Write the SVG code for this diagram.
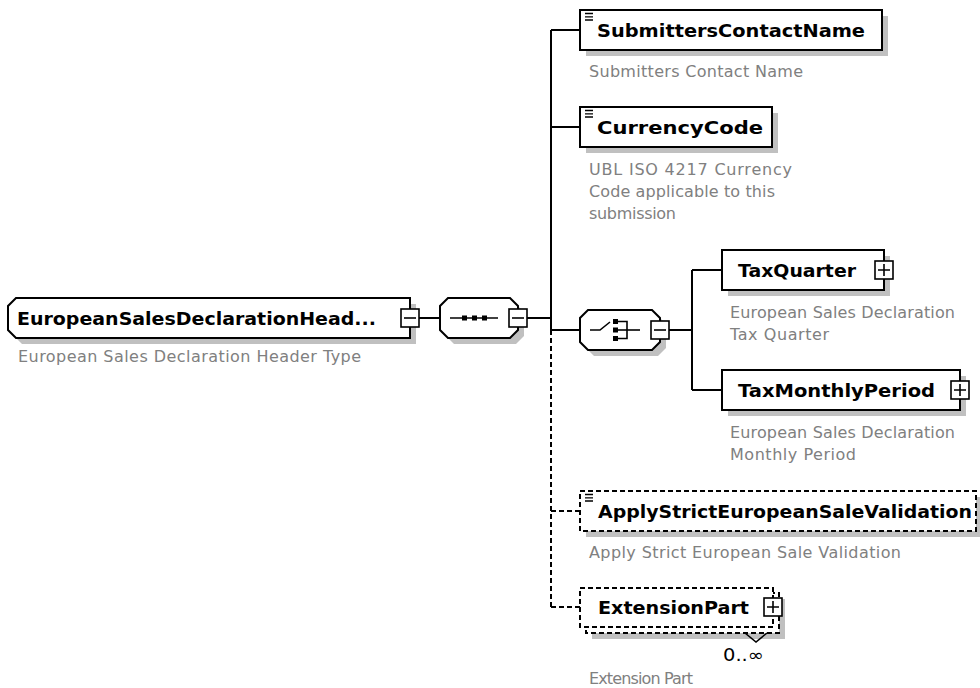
<svg xmlns="http://www.w3.org/2000/svg" width="980" height="688" viewBox="0 0 980 688">
<defs>
<style>
.box{fill:#fff;stroke:#000;stroke-width:2}
.dbox{fill:#fff;stroke:#000;stroke-width:2;stroke-dasharray:5 3}
.shadow{fill:#c0c0c0}
.name{font-family:"DejaVu Sans",Verdana,sans-serif;font-weight:bold;font-size:18px;fill:#000}
.desc{font-family:"DejaVu Sans",Verdana,sans-serif;font-size:16px;fill:#808080}
.occ{font-family:"DejaVu Sans",Verdana,sans-serif;font-size:17px;fill:#000}
.conn{stroke:#000;stroke-width:2;fill:none}
.dconn{stroke:#000;stroke-width:2;fill:none;stroke-dasharray:5 3}
.pm{fill:#fff;stroke:#000;stroke-width:1.6}
.pml{stroke:#000;stroke-width:1.6;fill:none}
.ico{stroke:#000;stroke-width:1.3;fill:none}
</style>
</defs>
<rect width="980" height="688" fill="#fff"/>

<g id="connectors">
<line class="conn" x1="419" y1="318" x2="440" y2="318"/>
<line class="conn" x1="527" y1="318" x2="551" y2="318"/>
<line class="conn" x1="551" y1="30" x2="551" y2="330"/>
<line class="dconn" x1="551" y1="330" x2="551" y2="607"/>
<line class="conn" x1="551" y1="30" x2="580" y2="30"/>
<line class="conn" x1="551" y1="127" x2="580" y2="127"/>
<line class="conn" x1="551" y1="330" x2="580" y2="330"/>
<line class="dconn" x1="551" y1="511" x2="580" y2="511"/>
<line class="dconn" x1="551" y1="607" x2="580" y2="607"/>
<line class="conn" x1="669" y1="330" x2="692" y2="330"/>
<line class="conn" x1="692" y1="270" x2="692" y2="390"/>
<line class="conn" x1="692" y1="270" x2="722" y2="270"/>
<line class="conn" x1="692" y1="390" x2="722" y2="390"/>
</g>

<g id="root">
<path class="shadow" d="M22,304 L416,304 L416,344 L22,344 L14,336 L14,312 Z"/>
<path class="box" d="M16,298 L410,298 L410,338 L16,338 L8,330 L8,306 Z"/>
<text class="name" x="17" y="325" textLength="359" lengthAdjust="spacingAndGlyphs">EuropeanSalesDeclarationHead...</text>
<rect class="pm" x="401" y="309" width="18" height="18"/>
<line class="pml" x1="404" y1="318" x2="416" y2="318"/>
<text class="desc" x="18" y="362" textLength="343">European Sales Declaration Header Type</text>
</g>

<g id="sequence">
<path class="shadow" d="M454,304 L516,304 L524,312 L524,336 L516,344 L454,344 L446,336 L446,312 Z"/>
<path class="box" d="M448,298 L510,298 L518,306 L518,330 L510,338 L448,338 L440,330 L440,306 Z"/>
<line class="pml" x1="450" y1="318" x2="498" y2="318"/>
<rect x="462" y="315.5" width="5" height="5" fill="#000"/>
<rect x="472" y="315.5" width="5" height="5" fill="#000"/>
<rect x="482" y="315.5" width="5" height="5" fill="#000"/>
<rect class="pm" x="509" y="309" width="18" height="18"/>
<line class="pml" x1="512" y1="318" x2="524" y2="318"/>
</g>

<g id="choice">
<path class="shadow" d="M594,316 L658,316 L666,324 L666,348 L658,356 L594,356 L586,348 L586,324 Z"/>
<path class="box" d="M588,310 L652,310 L660,318 L660,342 L652,350 L588,350 L580,342 L580,318 Z"/>
<polyline class="pml" points="590,330 600,330 610,322"/>
<rect x="613" y="319" width="5" height="5" fill="#000"/>
<rect x="613" y="327.5" width="5" height="5" fill="#000"/>
<rect x="613" y="336" width="5" height="5" fill="#000"/>
<polyline class="pml" points="618,321.5 627,321.5 627,338.5 618,338.5"/>
<line class="pml" x1="618" y1="330" x2="640" y2="330"/>
<rect class="pm" x="651" y="321" width="18" height="18"/>
<line class="pml" x1="654" y1="330" x2="666" y2="330"/>
</g>

<g id="SubmittersContactName">
<rect class="shadow" x="586" y="16" width="302" height="40"/>
<rect class="box" x="580" y="10" width="302" height="40"/>
<path class="ico" d="M585,13.5 H593 M585,16.8 H593 M585,20 H593"/>
<text class="name" x="597" y="37" textLength="268" lengthAdjust="spacingAndGlyphs">SubmittersContactName</text>
<text class="desc" x="589" y="77" textLength="214">Submitters Contact Name</text>
</g>

<g id="CurrencyCode">
<rect class="shadow" x="586" y="113" width="192" height="40"/>
<rect class="box" x="580" y="107" width="192" height="40"/>
<path class="ico" d="M585,110.5 H593 M585,113.8 H593 M585,117 H593"/>
<text class="name" x="597" y="134" textLength="166" lengthAdjust="spacingAndGlyphs">CurrencyCode</text>
<text class="desc" x="589" y="175" textLength="203">UBL ISO 4217 Currency</text>
<text class="desc" x="589" y="197" textLength="186">Code applicable to this</text>
<text class="desc" x="589" y="219" textLength="87">submission</text>
</g>

<g id="TaxQuarter">
<rect class="shadow" x="728" y="256" width="162" height="40"/>
<rect class="box" x="722" y="250" width="162" height="40"/>
<text class="name" x="738" y="277" textLength="118" lengthAdjust="spacingAndGlyphs">TaxQuarter</text>
<rect class="pm" x="875" y="261" width="18" height="18"/>
<path class="pml" d="M878,270 H890 M884,264 V276"/>
<text class="desc" x="730" y="318" textLength="225">European Sales Declaration</text>
<text class="desc" x="730" y="340" textLength="99">Tax Quarter</text>
</g>

<g id="TaxMonthlyPeriod">
<rect class="shadow" x="728" y="376" width="238" height="40"/>
<rect class="box" x="722" y="370" width="238" height="40"/>
<text class="name" x="738" y="397" textLength="197" lengthAdjust="spacingAndGlyphs">TaxMonthlyPeriod</text>
<rect class="pm" x="951" y="381" width="18" height="18"/>
<path class="pml" d="M954,390 H966 M960,384 V396"/>
<text class="desc" x="730" y="438" textLength="225">European Sales Declaration</text>
<text class="desc" x="730" y="460" textLength="126">Monthly Period</text>
</g>

<g id="ApplyStrictEuropeanSaleValidation">
<rect class="shadow" x="586" y="497" width="396" height="40"/>
<rect class="dbox" x="580" y="491" width="396" height="40"/>
<path class="ico" d="M585,494.5 H593 M585,497.8 H593 M585,501 H593"/>
<text class="name" x="598" y="518" textLength="374" lengthAdjust="spacingAndGlyphs">ApplyStrictEuropeanSaleValidation</text>
<text class="desc" x="589" y="558" textLength="312">Apply Strict European Sale Validation</text>
</g>

<g id="ExtensionPart">
<rect class="shadow" x="592" y="599" width="193" height="40"/>
<rect class="dbox" x="586" y="593" width="193" height="40"/>
<rect class="dbox" x="580" y="588" width="193" height="39"/>
<text class="name" x="598" y="614" textLength="151" lengthAdjust="spacingAndGlyphs">ExtensionPart</text>
<rect class="pm" x="764" y="598" width="18" height="18"/>
<path class="pml" d="M767,607 H779 M773,601 V613"/>
<polyline class="pml" points="745,633 756,642 767,633"/>
<text class="occ" x="723" y="661" textLength="41" lengthAdjust="spacingAndGlyphs">0..∞</text>
<text class="desc" x="589" y="684" textLength="104">Extension Part</text>
</g>
</svg>
